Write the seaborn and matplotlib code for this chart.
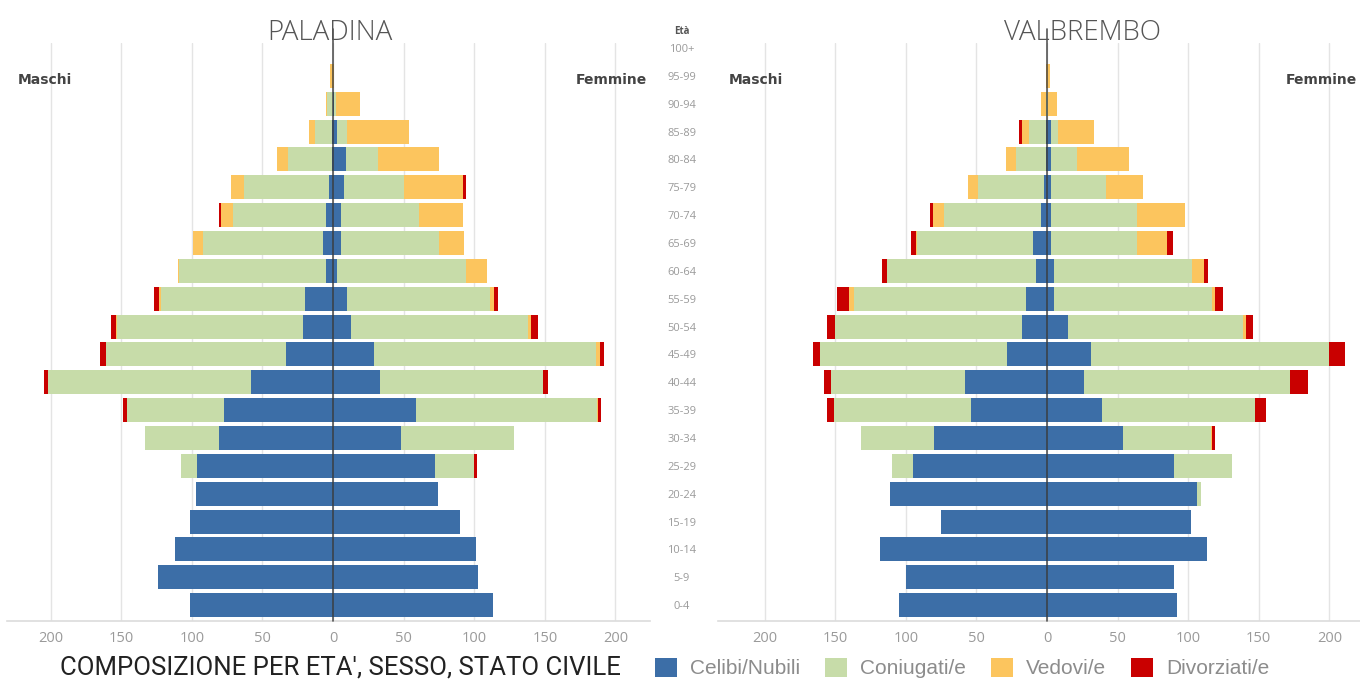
import numpy as np
import pandas as pd
import matplotlib
matplotlib.use("Agg")
import matplotlib.pyplot as plt
import matplotlib.transforms as mtransforms
from matplotlib.patches import Patch
import seaborn as sns

# Age classes, from youngest to oldest
age_groups = ["0-4", "5-9", "10-14", "15-19", "20-24", "25-29", "30-34", "35-39",
              "40-44", "45-49", "50-54", "55-59", "60-64", "65-69", "70-74", "75-79",
              "80-84", "85-89", "90-94", "95-99", "100+"]

status_labels = ["Celibi/Nubili", "Coniugati/e", "Vedovi/e", "Divorziati/e"]
status_colors = ["#3c6ea7", "#c7dca9", "#fcc55e", "#c90000"]

# PALADINA - Maschi
pal_m_celibi     = [101, 124, 112, 101, 97, 96, 81, 77, 58, 33, 21, 20, 5, 7, 5, 3, 1, 1, 0, 0, 0]
pal_m_coniugati  = [0, 0, 0, 0, 0, 12, 52, 69, 144, 128, 132, 102, 104, 85, 66, 60, 31, 12, 4, 0, 0]
pal_m_vedovi     = [0, 0, 0, 0, 0, 0, 0, 0, 0, 0, 1, 1, 1, 7, 8, 9, 8, 4, 1, 2, 0]
pal_m_divorziati = [0, 0, 0, 0, 0, 0, 0, 3, 3, 4, 3, 4, 0, 0, 2, 0, 0, 0, 0, 0, 0]
# PALADINA - Femmine
pal_f_nubili     = [113, 103, 101, 90, 74, 72, 48, 59, 33, 29, 13, 10, 3, 6, 6, 8, 9, 3, 1, 0, 0]
pal_f_coniugate  = [0, 0, 0, 0, 0, 28, 80, 128, 116, 157, 125, 101, 91, 69, 55, 42, 23, 7, 1, 0, 0]
pal_f_vedove     = [0, 0, 0, 0, 0, 0, 0, 1, 0, 3, 2, 3, 15, 18, 31, 42, 43, 44, 17, 1, 0]
pal_f_divorziate = [0, 0, 0, 0, 0, 2, 0, 2, 3, 3, 5, 3, 0, 0, 0, 2, 0, 0, 0, 0, 0]

# VALBREMBO - Maschi
val_m_celibi     = [105, 100, 118, 75, 111, 95, 80, 54, 58, 28, 18, 15, 8, 10, 4, 2, 1, 1, 0, 0, 0]
val_m_coniugati  = [0, 0, 0, 0, 0, 15, 52, 97, 95, 133, 132, 122, 105, 82, 69, 47, 21, 12, 1, 0, 0]
val_m_vedovi     = [0, 0, 0, 0, 0, 0, 0, 0, 0, 0, 0, 3, 0, 1, 8, 7, 7, 5, 3, 1, 0]
val_m_divorziati = [0, 0, 0, 0, 0, 0, 0, 5, 5, 5, 6, 9, 4, 3, 2, 0, 0, 2, 0, 0, 0]
# VALBREMBO - Femmine
val_f_nubili     = [92, 90, 113, 102, 106, 90, 54, 39, 26, 31, 15, 5, 5, 3, 3, 3, 3, 3, 0, 0, 0]
val_f_coniugate  = [0, 0, 0, 0, 3, 41, 62, 108, 146, 169, 124, 112, 98, 61, 61, 39, 18, 5, 1, 0, 0]
val_f_vedove     = [0, 0, 0, 0, 0, 0, 1, 0, 0, 0, 2, 2, 8, 21, 34, 26, 37, 25, 6, 2, 0]
val_f_divorziate = [0, 0, 0, 0, 0, 0, 2, 8, 13, 11, 5, 6, 3, 4, 0, 0, 0, 0, 0, 0, 0]

x_ticks = [-200, -150, -100, -50, 0, 50, 100, 150, 200]

sns.set_theme(style="white")
plt.rcParams["font.family"] = ["Open Sans", "DejaVu Sans"]

W, H = 1360, 693
fig = plt.figure(figsize=(W / 100, H / 100), dpi=100)
ax_l = fig.add_axes([7 / W, 72 / H, 643 / W, 578 / H])
ax_r = fig.add_axes([718 / W, 72 / H, 642 / W, 578 / H])

order = age_groups[::-1]


def draw_pyramid(ax, males, females, xlim):
    for parts, sign in ((males, -1), (females, 1)):
        cum = np.cumsum(np.array(parts, dtype=float), axis=0)
        # outermost segment first, inner cumulative totals painted over it
        for k in range(3, -1, -1):
            df = pd.DataFrame({"eta": age_groups, "n": sign * cum[k]})
            sns.barplot(data=df, x="n", y="eta", order=order, orient="h",
                        color=status_colors[k], saturation=1, width=0.86,
                        linewidth=0, errorbar=None, ax=ax)
    ax.set_xlim(*xlim)
    ax.set_ylim(20.57, -0.18)
    ax.set_xlabel("")
    ax.set_ylabel("")
    ax.set_xticks(x_ticks)
    ax.set_xticklabels([str(abs(t)) for t in x_ticks])
    ax.xaxis.grid(True, color="#e4e4e4", linewidth=1)
    ax.yaxis.grid(False)
    ax.set_axisbelow(True)
    ax.tick_params(axis="x", length=0, labelsize=10.5, colors="#9a9a9a", pad=7)
    for s in ("top", "left", "right"):
        ax.spines[s].set_visible(False)
    ax.spines["bottom"].set_color("#dcdcdc")
    ax.spines["bottom"].set_linewidth(1.2)
    # central axis line
    ax.plot([0, 0], [20.57, -0.7], color="#3a3a3a", lw=1.2, alpha=0.85,
            clip_on=False, zorder=6)
    trans = mtransforms.blended_transform_factory(ax.transAxes, ax.transData)
    ax.text(0.016, 1.15, "Maschi", transform=trans, ha="left", va="center",
            fontsize=10, fontweight="bold", color="#444444", family="DejaVu Sans")
    ax.text(0.884, 1.15, "Femmine", transform=trans, ha="left", va="center",
            fontsize=10, fontweight="bold", color="#444444", family="DejaVu Sans")


draw_pyramid(ax_l,
             [pal_m_celibi, pal_m_coniugati, pal_m_vedovi, pal_m_divorziati],
             [pal_f_nubili, pal_f_coniugate, pal_f_vedove, pal_f_divorziate],
             (-230.9, 224.5))
draw_pyramid(ax_r,
             [val_m_celibi, val_m_coniugati, val_m_vedovi, val_m_divorziati],
             [val_f_nubili, val_f_coniugate, val_f_vedove, val_f_divorziate],
             (-233.0, 221.7))

ax_l.set_yticks([])
ax_r.set_yticks(range(len(order)))
ax_r.set_yticklabels(order)
for lab in ax_r.get_yticklabels():
    lab.set_horizontalalignment("center")
ax_r.tick_params(axis="y", length=0, pad=26, labelsize=8, colors="#9a9a9a")
ax_r.text(-0.056, -0.58, "Età",
          transform=mtransforms.blended_transform_factory(ax_r.transAxes, ax_r.transData),
          ha="center", va="center", fontsize=7, fontweight="bold", color="#555555")

# panel titles
fig.text(330 / W, 1 - 33 / H, "PALADINA", ha="center", va="center",
         fontsize=20, fontweight="light", color="#555555")
fig.text(1082 / W, 1 - 33 / H, "VALBREMBO", ha="center", va="center",
         fontsize=20, fontweight="light", color="#555555")

# footer title and legend
fig.text(340 / W, 1 - 668 / H, "COMPOSIZIONE PER ETA', SESSO, STATO CIVILE",
         ha="center", va="center", fontsize=18.5, color="#222222",
         family=["Roboto", "DejaVu Sans"])
handles = [Patch(facecolor=c, edgecolor="none") for c in status_colors]
fig.legend(handles, status_labels, loc="center left",
           bbox_to_anchor=(655 / W, 1 - 668 / H), ncol=4, frameon=False,
           prop={"family": ["Liberation Sans", "DejaVu Sans"], "size": 15},
           labelcolor="#8c8c8c", handlelength=1.06, handleheight=1.06,
           handletextpad=0.62, columnspacing=1.2, borderaxespad=0, borderpad=0)

fig.savefig("out.png", dpi=100, facecolor="white")
